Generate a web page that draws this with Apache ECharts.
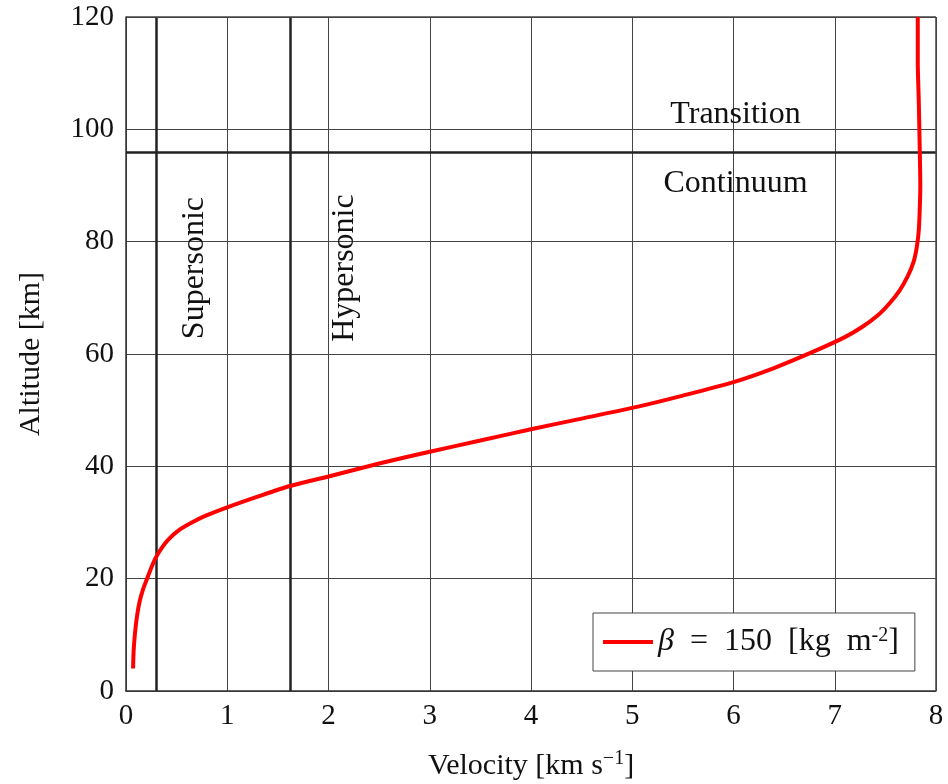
<!DOCTYPE html>
<html>
<head>
<meta charset="utf-8">
<script src="https://cdn.jsdelivr.net/npm/echarts@6/dist/echarts.min.js"></script>
<style>
  html, body { margin: 0; padding: 0; background: #fff; }
  #chart { width: 948px; height: 784px; }
</style>
</head>
<body>
<div id="chart"></div>
<script>
// velocity [km/s] vs altitude [km]
const velocity = [0.07, 0.075, 0.089, 0.11, 0.138, 0.17, 0.204, 0.24, 0.29, 0.35, 0.42, 0.52, 0.65, 0.80, 1.0, 1.3, 1.62, 2.0, 2.5, 3.0, 3.5, 4.0, 4.5, 5.0, 5.5, 6.0, 6.4, 6.8, 7.1, 7.27, 7.42, 7.54, 7.64, 7.72, 7.78, 7.81, 7.83, 7.84, 7.845, 7.84, 7.83, 7.82, 7.82];
const altitude = [4, 7, 10.3, 13.5, 16.2, 18.2, 19.8, 21.5, 23.6, 25.4, 27.0, 28.6, 30.0, 31.3, 32.7, 34.6, 36.5, 38.2, 40.5, 42.6, 44.6, 46.6, 48.5, 50.4, 52.6, 55.0, 57.5, 60.5, 63.0, 64.8, 66.8, 69.0, 71.3, 73.8, 76.5, 79.0, 82.0, 86.0, 90.0, 96.0, 105.0, 112.0, 120.0];

// regime boundaries
const machLines = [0.3, 1.62];
const continuumAlt = 96;

// region labels [v, h, text, rotate]
const regionLabels = [
  [6.02, 102.6, 'Transition', 0],
  [6.02, 90.3, 'Continuum', 0],
  [0.68, 75.3, 'Supersonic', 90],
  [2.16, 75.3, 'Hypersonic', 90]
];

const xTicks = [0, 1, 2, 3, 4, 5, 6, 7, 8];
const yTicks = [0, 20, 40, 60, 80, 100, 120];

const FONT = 'Liberation Serif';
const FS = 29;
const FT = 32;

let chartDom = document.getElementById('chart');
let myChart = echarts.init(chartDom);

let curve = velocity.map((v, i) => [v, altitude[i]]);

let option = {
  animation: false,
  backgroundColor: '#fff',
  grid: { left: 126, right: 12, top: 17, bottom: 93, show: false, containLabel: false, outerBoundsMode: 'none' },
  xAxis: {
    type: 'value', min: 0, max: 8, interval: 1,
    name: 'Velocity [km s{sup|−1}]',
    nameLocation: 'middle', nameGap: 58,
    nameTextStyle: {
      fontFamily: FONT, fontSize: 30, color: '#111',
      rich: { sup: { fontFamily: FONT, fontSize: 20, color: '#111', verticalAlign: 'top', padding: [0, 0, 14, 0] } }
    },
    axisLine: { show: true, onZero: false, lineStyle: { color: '#333', width: 1.5 } },
    axisTick: { show: false },
    axisLabel: { fontFamily: FONT, fontSize: FS, color: '#111', margin: 11,
      formatter: v => xTicks.includes(v) ? String(v) : '' },
    splitLine: { show: true, lineStyle: { color: '#444', width: 1 } }
  },
  yAxis: {
    type: 'value', min: 0, max: 120, interval: 20,
    name: 'Altitude [km]',
    nameLocation: 'middle', nameGap: 80,
    nameTextStyle: { fontFamily: FONT, fontSize: 30, color: '#111' },
    axisLine: { show: true, onZero: false, lineStyle: { color: '#333', width: 1.5 } },
    axisTick: { show: false },
    axisLabel: { fontFamily: FONT, fontSize: FS, color: '#111', margin: 12,
      formatter: v => yTicks.includes(v) ? String(v) : '' },
    splitLine: { show: true, lineStyle: { color: '#444', width: 1 } }
  },
  legend: {
    left: 593, top: 613,
    padding: [13, 16, 13, 10],
    borderColor: '#444', borderWidth: 1,
    backgroundColor: '#fff',
    icon: 'rect', itemWidth: 50, itemHeight: 4,
    itemGap: 8,
    data: ['beta'],
    formatter: () => '{b|β}{a|  =  150  [kg  m}{s|-2}{a|]}',
    textStyle: {
      fontFamily: FONT, fontSize: FT, color: '#111',
      rich: {
        a: { fontFamily: FONT, fontSize: FT, color: '#111' },
        b: { fontFamily: FONT, fontSize: FT, fontStyle: 'italic', color: '#111' },
        s: { fontFamily: FONT, fontSize: 20, color: '#111', verticalAlign: 'top', padding: [0, 0, 12, 0] }
      }
    }
  },
  series: [
    {
      name: 'frame',
      type: 'line',
      data: [],
      silent: true,
      markLine: {
        silent: true, symbol: 'none', animation: false,
        label: { show: false },
        lineStyle: { color: '#222', width: 2.5, type: 'solid' },
        data: [
          ...machLines.map(v => ({ xAxis: v })),
          { yAxis: continuumAlt },
          { yAxis: 120, lineStyle: { color: '#444', width: 1.5 } },
          { xAxis: 8, lineStyle: { color: '#444', width: 1.5 } }
        ]
      },
      markPoint: {
        silent: true, symbol: 'circle', symbolSize: 0,
        data: regionLabels.map(r => ({
          coord: [r[0], r[1]],
          label: { show: true, formatter: r[2], rotate: r[3], fontFamily: FONT, fontSize: FT, color: '#111', position: 'inside' }
        }))
      }
    },
    {
      name: 'beta',
      type: 'line',
      data: curve,
      smooth: 0.25,
      showSymbol: false,
      lineStyle: { color: '#ff0000', width: 4 },
      itemStyle: { color: '#ff0000' },
      z: 5
    }
  ]
};

myChart.setOption(option);
</script>
</body>
</html>
